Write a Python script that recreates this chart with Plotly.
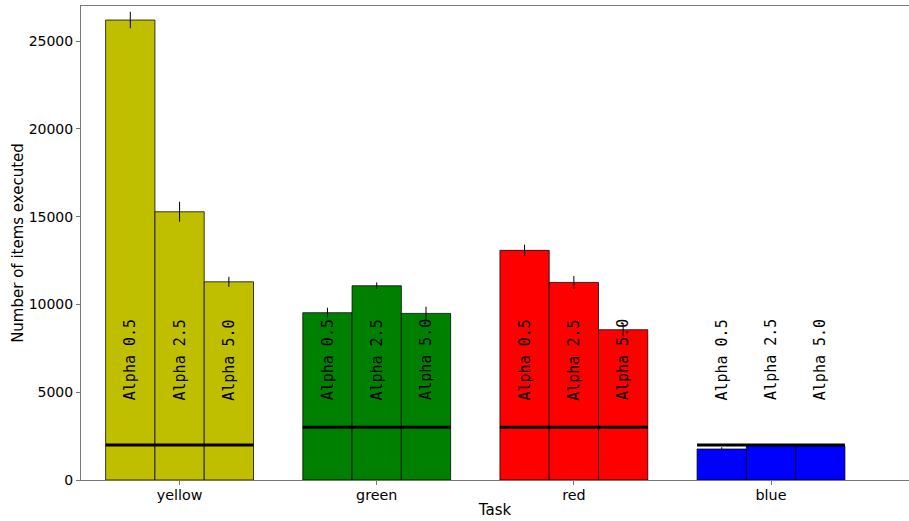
import plotly.graph_objects as go

# Items executed per task for three alpha settings
tasks = ["yellow", "green", "red", "blue"]
alphas = ["0.5", "2.5", "5.0"]
task_colors = ["#bfbf00", "#008000", "#ff0000", "#0000ff"]

means = {
    "yellow": [26200, 15280, 11290],
    "green": [9530, 11065, 9490],
    "red": [13080, 11255, 8560],
    "blue": [1765, 1955, 1950],
}
errors = {
    "yellow": [470, 570, 285],
    "green": [285, 190, 380],
    "red": [325, 370, 380],
    "blue": [100, 60, 40],
}
# Reference level for each task
baselines = [2000, 3000, 3000, 2000]
y_ticks = [0, 5000, 10000, 15000, 20000, 25000]

bar_w = 0.25
offsets = [-0.25, 0.0, 0.25]
label_y = 4420

fig = go.Figure()

for ti, task in enumerate(tasks):
    xs = [ti + o for o in offsets]
    fig.add_trace(go.Bar(
        x=xs,
        y=means[task],
        width=bar_w,
        marker=dict(color=task_colors[ti], line=dict(color="rgba(0,0,0,0.75)", width=1)),
        error_y=dict(type="data", array=errors[task], color="black", thickness=1, width=0),
        showlegend=False,
    ))
    # Baseline spanning the whole group
    fig.add_trace(go.Scatter(
        x=[ti - 1.5 * bar_w, ti + 1.5 * bar_w],
        y=[baselines[ti], baselines[ti]],
        mode="lines",
        line=dict(color="black", width=3),
        showlegend=False,
        hoverinfo="skip",
    ))
    for ai, a in enumerate(alphas):
        fig.add_annotation(
            x=xs[ai], y=label_y, xref="x", yref="y",
            text=f"Alpha {a}", textangle=-90, showarrow=False,
            xanchor="center", yanchor="bottom",
            font=dict(family="DejaVu Sans Mono", size=15, color="black"),
        )

axis_color = "#777777"
fig.update_layout(
    width=909, height=521,
    margin=dict(l=81, r=0, t=6, b=41, autoexpand=False),
    plot_bgcolor="white", paper_bgcolor="white",
    barmode="overlay",
    font=dict(family="DejaVu Sans", size=14, color="black"),
    xaxis=dict(
        range=[-0.5, 3.7],
        tickvals=list(range(len(tasks))), ticktext=tasks,
        ticks="outside", ticklen=4, tickcolor=axis_color,
        ticklabelstandoff=-2,
        showline=True, linecolor=axis_color, linewidth=1, mirror=True,
        showgrid=False, zeroline=False, automargin=False,
        title=dict(text="Task", standoff=2, font=dict(size=15)),
        tickfont=dict(size=14.3),
    ),
    yaxis=dict(
        range=[0, 27000],
        tickvals=y_ticks, ticktext=[str(v) for v in y_ticks],
        ticks="outside", ticklen=4, tickcolor=axis_color,
        showline=True, linecolor=axis_color, linewidth=1, mirror=True,
        showgrid=False, zeroline=False, automargin=False,
        title=dict(text="Number of items executed", standoff=1, font=dict(size=15)),
        tickfont=dict(size=14),
    ),
)

fig.write_html("out.html")
